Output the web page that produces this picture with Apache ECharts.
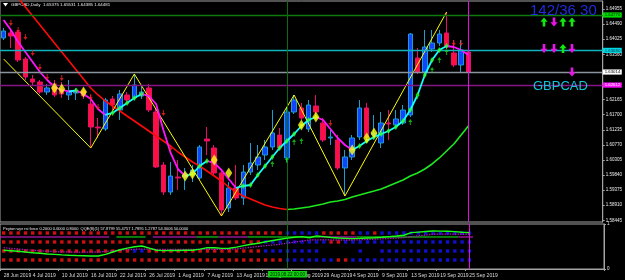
<!DOCTYPE html>
<html>
<head>
<meta charset="utf-8">
<title>GBPCAD Daily</title>
<script src="https://cdn.jsdelivr.net/npm/echarts@6/dist/echarts.min.js"></script>
<style>
  html, body { margin: 0; padding: 0; background: #000; }
  #chart { width: 625px; height: 280px; }
</style>
</head>
<body>
<div id="chart"></div>
<script>
// daily bars, 28 Jun - 25 Sep 2019
const dates = [
  '28 Jun 2019',
  '1 Jul 2019', '2 Jul 2019', '3 Jul 2019', '4 Jul 2019', '5 Jul 2019', '8 Jul 2019', '9 Jul 2019',
  '10 Jul 2019', '11 Jul 2019', '12 Jul 2019', '15 Jul 2019', '16 Jul 2019', '17 Jul 2019', '18 Jul 2019',
  '19 Jul 2019', '22 Jul 2019', '23 Jul 2019', '24 Jul 2019', '25 Jul 2019', '26 Jul 2019', '29 Jul 2019',
  '30 Jul 2019', '31 Jul 2019',
  '1 Aug 2019', '2 Aug 2019', '5 Aug 2019', '6 Aug 2019', '7 Aug 2019', '8 Aug 2019', '9 Aug 2019',
  '12 Aug 2019', '13 Aug 2019', '14 Aug 2019', '15 Aug 2019', '16 Aug 2019', '19 Aug 2019', '20 Aug 2019',
  '21 Aug 2019', '22 Aug 2019', '23 Aug 2019', '26 Aug 2019', '27 Aug 2019', '28 Aug 2019', '29 Aug 2019',
  '30 Aug 2019',
  '2 Sep 2019', '3 Sep 2019', '4 Sep 2019', '5 Sep 2019', '6 Sep 2019', '8 Sep 2019', '9 Sep 2019',
  '10 Sep 2019', '11 Sep 2019', '12 Sep 2019', '13 Sep 2019', '16 Sep 2019', '17 Sep 2019', '18 Sep 2019',
  '19 Sep 2019', '20 Sep 2019', '23 Sep 2019', '24 Sep 2019', '25 Sep 2019'
];

// [open, close, low, high]
const candles = [
  [1.64062, 1.64277, 1.64000, 1.64370], [1.64216, 1.64123, 1.63754, 1.64370],
  [1.64246, 1.63384, 1.63322, 1.64308], [1.63415, 1.62860, 1.62768, 1.63476],
  [1.62799, 1.62706, 1.62614, 1.62922], [1.62706, 1.62398, 1.62337, 1.62768],
  [1.62398, 1.62522, 1.62306, 1.62645], [1.62645, 1.62306, 1.62244, 1.62768],
  [1.62460, 1.62337, 1.62214, 1.62706], [1.62306, 1.62398, 1.62152, 1.62768],
  [1.62368, 1.62429, 1.62152, 1.62522], [1.62429, 1.62275, 1.62183, 1.62522],
  [1.62029, 1.61320, 1.60674, 1.62306], [1.61320, 1.61290, 1.60982, 1.61598],
  [1.61259, 1.62152, 1.61197, 1.62214], [1.62183, 1.61998, 1.61844, 1.62275],
  [1.61844, 1.62337, 1.61536, 1.62460], [1.62306, 1.62152, 1.62060, 1.62398],
  [1.62214, 1.62614, 1.62152, 1.62953], [1.62275, 1.62398, 1.62183, 1.62583],
  [1.62522, 1.61844, 1.61782, 1.62645], [1.61782, 1.60088, 1.60058, 1.61906],
  [1.60150, 1.59318, 1.59226, 1.60242], [1.59318, 1.59811, 1.59226, 1.60242],
  [1.59780, 1.59750, 1.59380, 1.60304], [1.59780, 1.59873, 1.59380, 1.60058],
  [1.59842, 1.59996, 1.59626, 1.60150], [1.59750, 1.60704, 1.59688, 1.60766],
  [1.60951, 1.60889, 1.60458, 1.61320], [1.60674, 1.59904, 1.59842, 1.60766],
  [1.59904, 1.58764, 1.58579, 1.59996], [1.58826, 1.59442, 1.58702, 1.59626],
  [1.59442, 1.59134, 1.59072, 1.60150], [1.59134, 1.59934, 1.58918, 1.60150],
  [1.59934, 1.60212, 1.59842, 1.60828], [1.60150, 1.60396, 1.59996, 1.60766],
  [1.60458, 1.60704, 1.60304, 1.60920], [1.60704, 1.61136, 1.60612, 1.61844],
  [1.61074, 1.60674, 1.60612, 1.61290], [1.60366, 1.61782, 1.60242, 1.61906],
  [1.61782, 1.62152, 1.61721, 1.62306], [1.61906, 1.61598, 1.61536, 1.62060],
  [1.61259, 1.61998, 1.61166, 1.62152], [1.61967, 1.61782, 1.61598, 1.62306],
  [1.61444, 1.60920, 1.60858, 1.61598], [1.60982, 1.61012, 1.60766, 1.61228],
  [1.60920, 1.60058, 1.59996, 1.61074], [1.60058, 1.60396, 1.59195, 1.60612],
  [1.60396, 1.60982, 1.60304, 1.61074], [1.61012, 1.61906, 1.60920, 1.62152],
  [1.61906, 1.61012, 1.60920, 1.62060], [1.61074, 1.61136, 1.60920, 1.61690],
  [1.60828, 1.61444, 1.60674, 1.61782], [1.61444, 1.61413, 1.60920, 1.61844],
  [1.61382, 1.61567, 1.61290, 1.61844], [1.61444, 1.61844, 1.61382, 1.61998],
  [1.61690, 1.64185, 1.61628, 1.64216], [1.63446, 1.63014, 1.62953, 1.63754],
  [1.63014, 1.63784, 1.62953, 1.64308], [1.63723, 1.63908, 1.63630, 1.64308],
  [1.63908, 1.64185, 1.63815, 1.64308], [1.64216, 1.63784, 1.63723, 1.64862],
  [1.63600, 1.63230, 1.63168, 1.64000], [1.63230, 1.63692, 1.63014, 1.64000],
  [1.63630, 1.63014, 1.62984, 1.63754]
];

// slow moving average (red while falling, green while rising)
const slowMa = [
  null, null, 1.65294, 1.65016, 1.64739, 1.64462, 1.64185, 1.63908, 1.63630, 1.63353,
  1.63076, 1.62799, 1.62522, 1.62306, 1.62121, 1.61967, 1.61813, 1.61659, 1.61505, 1.61351,
  1.61197, 1.61043, 1.60889, 1.60735, 1.60550, 1.60396, 1.60242, 1.60119, 1.59965, 1.59811,
  1.59657, 1.59472, 1.59318, 1.59195, 1.59103, 1.59010, 1.58918, 1.58856, 1.58810, 1.58779,
  1.58795, 1.58826, 1.58856, 1.58903, 1.58949, 1.59010, 1.59041, 1.59087, 1.59164, 1.59226,
  1.59288, 1.59349, 1.59411, 1.59503, 1.59596, 1.59688, 1.59811, 1.59904, 1.60027, 1.60181,
  1.60366, 1.60581, 1.60797, 1.61074, 1.61351
];

// fast moving average (magenta while falling, cyan while rising)
const fastMa = [
  1.64616, 1.64308, 1.63938, 1.63630, 1.63322, 1.63014, 1.62768, 1.62552, 1.62460, 1.62414,
  1.62445, 1.62337, 1.62183, 1.61875, 1.61690, 1.61752, 1.61906, 1.62060, 1.62214, 1.62337,
  1.62275, 1.62029, 1.61228, 1.60520, 1.60027, 1.59811, 1.59873, 1.60119, 1.60273, 1.60212,
  1.59996, 1.59719, 1.59442, 1.59503, 1.59534, 1.59842, 1.60119, 1.60396, 1.60674, 1.60889,
  1.61105, 1.61351, 1.61536, 1.61628, 1.61536, 1.61259, 1.60982, 1.60766, 1.60612, 1.60735,
  1.60889, 1.61012, 1.61105, 1.61197, 1.61320, 1.61505, 1.61844, 1.62306, 1.62922, 1.63384,
  1.63692, 1.63815, 1.63784, 1.63692, 1.63538
];

const zigzagBars = [0, 12, 18, 30, 40, 47, 61];
const zigzagPrices = [1.63415, 1.60674, 1.62953, 1.58579, 1.62306, 1.59195, 1.64862];

const turnBars = [7, 8, 11, 25, 26, 29, 31, 41, 43, 48, 50, 51];
const turnPrices = [1.62522, 1.62491, 1.62398, 1.59811, 1.59873, 1.60304, 1.59904, 1.61382, 1.61628, 1.60612, 1.60982, 1.61136];

const sellBars = [1, 2, 3, 4, 5, 6, 8, 12, 13, 22, 23, 45, 62, 63];
const sellPrices = [1.64524, 1.64308, 1.64092, 1.63600, 1.63168, 1.62860, 1.62830, 1.62244, 1.61936, 1.61752, 1.60674, 1.61444, 1.63908, 1.63908];

const buyBars = [37, 39, 40, 41, 56, 57, 59, 60, 61];
const buyPrices = [1.60181, 1.60304, 1.60858, 1.60889, 1.61474, 1.62275, 1.63076, 1.63384, 1.63630];

const priceTicks = [1.64955, 1.64490, 1.64025, 1.63560, 1.62165, 1.61700, 1.61235, 1.60770,
  1.60305, 1.59840, 1.59375, 1.58910, 1.58445];

// horizontal levels: green, cyan, bid, magenta
const levelPrices = [1.64770, 1.63680, 1.63014, 1.62612];
const markerBars = [39, 64];

// lower panel
const qqeFast = [
  28.7, 28.0, 27.2, 26.0, 25.0, 24.2, 23.0, 22.4, 21.6, 21.0,
  20.6, 20.3, 20.0, 20.0, 22.5, 26.1, 29.5, 32.0, 34.2, 35.3,
  32.0, 28.7, 28.2, 28.5, 28.4, 28.8, 28.7, 30.5, 32.7, 32.5,
  31.6, 31.8, 33.6, 35.8, 37.9, 39.5, 41.8, 43.7, 45.6, 47.4,
  48.6, 49.6, 48.0, 50.7, 49.6, 48.4, 47.5, 47.0, 46.5, 47.0,
  47.6, 48.0, 48.7, 49.6, 50.5, 51.7, 55.7, 56.6, 57.5, 58.3,
  58.1, 57.8, 57.3, 56.4, 55.7
];
const qqeSlow = [
  32.7, 31.6, 30.6, 29.6, 28.7, 27.9, 27.2, 26.7, 26.3, 26.1,
  26.0, 26.0, 26.0, 26.1, 26.9, 27.9, 28.9, 29.7, 30.2, 30.6,
  30.4, 30.2, 30.1, 30.0, 30.0, 30.1, 30.2, 30.2, 30.3, 30.3,
  30.2, 30.2, 31.0, 32.1, 33.3, 34.5, 35.7, 36.8, 37.9, 39.6,
  41.3, 42.8, 44.5, 44.6, 44.6, 44.5, 44.5, 44.5, 44.5, 44.8,
  45.3, 45.8, 46.3, 46.9, 47.4, 48.0, 49.4, 50.8, 52.1, 53.3,
  53.4, 53.4, 53.3, 53.3, 53.3
];
// r = red, b = blue, . = none (one per bar)
const stateRows = [
  'rrrrr rrrrr rrrrr rrrrr rrrrr rrrrr rrrrr rrrrb bbbbr rrrrb brbbb bbbbb bbbbb',
  'rrrrr rrrrr rrrrr rrrrr rrrrr rrrrr rrrrr rbbbb bbbbb rrbbb bbbbb bbbbb bbbbb',
  'rrrrr rrrrr rrrrr rrrbb rrrrr rrrrr rrrrr rbbbb bbbb. ....b ..bbb bbbbb bbbbb',
  'rrrrr rrrrr rrrrr rrrrr rrrrr rrrrr rrrrr rrrrb bbbbb brrbb bbbbb bbbbb bbbbb'
];
// m = magenta, g = green
const trendRow = 'mmmmm mmmmm mmmmm .gggg .mmmm mmggg mmmmg ggggg ggggm mmmmg ggggg ggggg gggmm';

const chart = echarts.init(document.getElementById('chart'));
const FONT = 'Liberation Sans';
const categories = dates.concat(Array.from({ length: 18 }, (_, k) => '~' + k));
const isDateTick = (i) => i % 4 === 0 && i < dates.length;

function splitTrend(values) {
  const rising = values.map(() => null);
  const falling = values.map(() => null);
  for (let i = 1; i < values.length; i++) {
    const a = values[i - 1], b = values[i];
    if (a == null || b == null) continue;
    const t = b > a ? rising : falling;
    t[i - 1] = a;
    t[i] = b;
  }
  return { rising, falling };
}
const slow = splitTrend(slowMa);
const fast = splitTrend(fastMa);
const risingDots = [];
fastMa.forEach((v, i) => { if (i > 0 && v > fastMa[i - 1]) risingDots.push([i, v]); });

const pairs = (bars, prices) => bars.map((b, k) => [b, prices[k]]);

const rowLevels = [55.2, 41.4, 27.6, 13.8];
const squareColors = { r: '#ff1414', b: '#1414ff' };
const squareData = [];
stateRows.forEach((row, r) => row.replace(/ /g, '').split('').forEach((c, i) => {
  if (squareColors[c]) squareData.push({ value: [i, rowLevels[r]], itemStyle: { color: squareColors[c] } });
}));
const trendColors = { m: '#b01ab0', g: '#10c010' };
const trendData = [];
trendRow.replace(/ /g, '').split('').forEach((c, i) => {
  if (trendColors[c]) trendData.push({ value: [i, 49.1], itemStyle: { color: trendColors[c] } });
});

const levelStyles = [
  { line: '#0c7a0c', box: '#00dc00', text: '#002000' },
  { line: '#10b4c0', box: '#00d8e4', text: '#003040' },
  { line: '#8a949e', box: '#ffffff', text: '#000000' },
  { line: '#861686', box: '#ff10ff', text: '#ffffff' }
];
const markerColors = ['#0b6e0b', '#e010e0'];

const upArrow = 'path://M4,0 L8,5 L5,5 L5,10 L3,10 L3,5 L0,5 Z';
const downArrow = 'path://M3,0 L5,0 L5,5 L8,5 L4,10 L0,5 L3,5 Z';

function arrowShape(cx, cy, dir) {
  const s = dir === 'up' ? 1 : -1;
  return [[cx, cy - 4.5 * s], [cx + 3.6, cy - 0.3 * s], [cx + 1.3, cy - 0.3 * s], [cx + 1.3, cy + 4.5 * s],
    [cx - 1.3, cy + 4.5 * s], [cx - 1.3, cy - 0.3 * s], [cx - 3.6, cy - 0.3 * s]];
}
const signalRows = [['up', 'down', 'up', 'up'], ['down', 'down', 'up', 'down'], [null, null, null, 'down']];
const signalX = [544, 554, 563, 572];
const signalY = [22, 48.5, 72];
const signalGraphics = [];
signalRows.forEach((row, r) => row.forEach((d, c) => {
  if (!d) return;
  signalGraphics.push({
    type: 'polygon', shape: { points: arrowShape(signalX[c], signalY[r], d) },
    style: { fill: d === 'up' ? '#10e810' : '#e814e8' }, z: 10
  });
}));

const option = {
  backgroundColor: '#000000',
  animation: false,
  grid: [
    { left: 0, right: 21, top: 1, height: 221, show: true, borderColor: '#a4a4a4', borderWidth: 1, backgroundColor: 'transparent' },
    { left: 0, right: 21, top: 224, height: 45, show: true, borderColor: '#a4a4a4', borderWidth: 1, backgroundColor: 'transparent' }
  ],
  xAxis: [
    { type: 'category', gridIndex: 0, data: categories, boundaryGap: true,
      axisLine: { show: false }, axisTick: { show: false }, axisLabel: { show: false }, splitLine: { show: false } },
    { type: 'category', gridIndex: 1, data: categories, boundaryGap: true,
      axisLine: { show: true, lineStyle: { color: '#a4a4a4' } },
      axisTick: { show: true, interval: isDateTick, length: 2, lineStyle: { color: '#a4a4a4' } },
      axisLabel: { interval: isDateTick, align: 'left', margin: 4, fontSize: 5, color: '#dcdcdc', fontFamily: FONT },
      splitLine: { show: false } }
  ],
  yAxis: [
    { type: 'value', gridIndex: 0, position: 'right', min: 1.58394, max: 1.65201,
      axisLine: { show: true, lineStyle: { color: '#a4a4a4' } },
      axisTick: { show: true, length: 2, customValues: priceTicks, lineStyle: { color: '#a4a4a4' } },
      axisLabel: { customValues: priceTicks, formatter: (v) => v.toFixed(5), margin: 3,
        fontSize: 4.5, color: '#ececec', fontFamily: FONT },
      splitLine: { show: false } },
    { type: 'value', gridIndex: 1, min: 0, max: 69, show: false },
    { type: 'value', gridIndex: 1, position: 'right', min: 0, max: 1, interval: 1,
      axisLine: { show: true, lineStyle: { color: '#a4a4a4' } },
      axisTick: { show: true, length: 2, lineStyle: { color: '#a4a4a4' } },
      axisLabel: { margin: 3, fontSize: 4.5, color: '#e6e6e6', fontFamily: FONT },
      splitLine: { show: false } }
  ],
  graphic: [
    { type: 'polygon', shape: { points: [[3, 3], [8, 3], [5.5, 6.5]] }, style: { fill: '#ffffff' } },
    { type: 'text', x: 11, y: 2.5, style: { text: 'GBPCAD,Daily  1.65375 1.65531 1.64385 1.64481',
      font: '4.4px ' + FONT, fill: '#ececec' } },
    { type: 'text', x: 530, y: 3, style: { text: '142/36 30', font: '15px ' + FONT, fill: '#1f2bdc' }, z: 10 },
    { type: 'text', x: 533, y: 79.5, style: { text: 'GBPCAD', font: '13px ' + FONT, fill: '#14c6da' }, z: 10 },
    { type: 'text', x: 3, y: 226.8, style: { text: 'Peyton wpr rsi force 0.2000 0.6000 0.8000  QQE(8)(1) 57.8799 55.4757 1.7895 1.2787 54.3006 50.0000',
      font: '4px ' + FONT, fill: '#e6e6e6' }, z: 10 }
  ].concat(signalGraphics),
  series: [
    { // price levels and time markers
      type: 'line', xAxisIndex: 0, yAxisIndex: 0, data: dates.map(() => null), z: 1, symbol: 'none',
      markLine: {
        symbol: 'none', silent: true, animation: false, precision: 5,
        data: levelPrices.map((p, k) => ({
          yAxis: p,
          lineStyle: { color: levelStyles[k].line, width: 1.4, type: 'solid' },
          label: { show: true, position: 'end', distance: 0, formatter: p.toFixed(5),
            backgroundColor: levelStyles[k].box, color: levelStyles[k].text,
            fontSize: 4.3, fontFamily: FONT, padding: [0.6, 1.5, 0.6, 2] }
        })).concat(markerBars.map((b, k) => ({
          xAxis: dates[b], lineStyle: { color: markerColors[k], width: 1, type: 'solid' }, label: { show: false }
        })))
      }
    },
    {
      type: 'candlestick', xAxisIndex: 0, yAxisIndex: 0, data: candles, barWidth: 5, z: 2,
      itemStyle: { color: '#1244ff', color0: '#ff0f3f', borderColor: '#1c9cd0', borderColor0: '#e4106c', borderWidth: 1 }
    },
    { type: 'line', data: slow.falling, symbol: 'none', z: 3, lineStyle: { color: '#ff0a0a', width: 1.6 } },
    { type: 'line', data: slow.rising, symbol: 'none', z: 3, lineStyle: { color: '#1ee81e', width: 1.6 } },
    { type: 'line', data: pairs(zigzagBars, zigzagPrices), symbol: 'none', z: 3, lineStyle: { color: '#ffff00', width: 1 } },
    { type: 'line', data: fast.falling, symbol: 'none', z: 4, lineStyle: { color: '#ff14ff', width: 1.8 } },
    { type: 'line', data: fast.rising, symbol: 'none', z: 5, lineStyle: { color: '#14ffff', width: 1.8 } },
    { type: 'scatter', data: risingDots, symbol: 'diamond', symbolSize: [4, 6], z: 6, itemStyle: { color: '#2cff2c' } },
    { type: 'scatter', data: pairs(turnBars, turnPrices), symbol: 'diamond', symbolSize: [7, 11], z: 7, itemStyle: { color: '#ffff14' } },
    { type: 'scatter', data: pairs(sellBars, sellPrices), symbol: downArrow, symbolSize: [4, 6], z: 7, itemStyle: { color: '#ff2222' } },
    { type: 'scatter', data: pairs(buyBars, buyPrices), symbol: upArrow, symbolSize: [4, 6], z: 7, itemStyle: { color: '#14d814' } },
    { type: 'scatter', xAxisIndex: 1, yAxisIndex: 1, data: squareData, symbol: 'rect', symbolSize: [3.4, 3.4], z: 3 },
    { type: 'scatter', xAxisIndex: 1, yAxisIndex: 1, data: trendData, symbol: 'rect', symbolSize: [7.3, 1.6], z: 3 },
    { type: 'line', xAxisIndex: 1, yAxisIndex: 1, data: qqeSlow, symbol: 'none', z: 4,
      lineStyle: { color: '#b414c8', width: 1.3, type: 'dotted' } },
    {
      type: 'line', xAxisIndex: 1, yAxisIndex: 1, data: qqeFast, symbol: 'none', z: 5,
      lineStyle: { color: '#1cff1c', width: 1.4 },
      markLine: {
        symbol: 'none', silent: true, animation: false,
        data: markerBars.map((b, k) => ({
          xAxis: dates[b], lineStyle: { color: markerColors[k], width: 1, type: 'solid' },
          label: k === 0
            ? { show: true, position: 'start', distance: 2, formatter: '2019.08.22 00:00',
                backgroundColor: '#10d010', color: '#002000', fontSize: 4.5, fontFamily: FONT, padding: [0.8, 2] }
            : { show: false }
        }))
      }
    }
  ]
};
chart.setOption(option);
</script>
</body>
</html>
